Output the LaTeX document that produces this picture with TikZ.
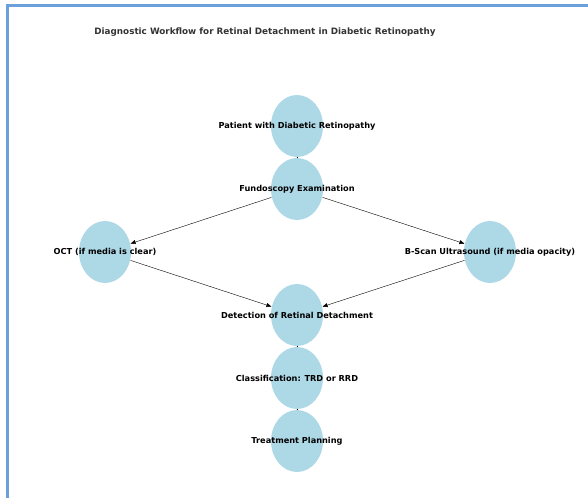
\documentclass[tikz,border=0pt]{standalone}
\usepackage{fontspec}
\setmainfont{DejaVu Sans}
\usepackage{tikz}
\usetikzlibrary{shapes,arrows.meta,positioning,backgrounds}
\definecolor{nodeblue}{HTML}{ADD8E6}
\definecolor{framecol}{HTML}{6CA0DC}
\definecolor{titlegray}{HTML}{333333}

\begin{document}
\begin{tikzpicture}[-{Triangle[length=5pt,width=4pt]},line width=1pt,node distance=63pt]
\tikzstyle{stage}=[ellipse,fill=nodeblue,draw=none,minimum width=52pt,minimum height=62pt,inner sep=0pt]
\tikzstyle{txt}=[font=\fontsize{8.2}{9}\selectfont\bfseries,text=black]
\useasboundingbox (0,0) rectangle (588pt,-498pt);
\draw[-,draw=framecol,line width=2.2pt] (7.5pt,-498pt) -- (7.5pt,-5.5pt) -- (588pt,-5.5pt);
\node[font=\fontsize{8.8}{10}\selectfont\bfseries,text=titlegray] (title) at (265pt,-32pt) {Diagnostic Workflow for Retinal Detachment in Diabetic Retinopathy};
\node[stage,label={[txt]center:Patient with Diabetic Retinopathy}] (P) at (297pt,-126pt) {};
\node[stage,label={[txt]center:Fundoscopy Examination}][below of=P] (F) {};
\node[stage,label={[txt]center:OCT (if media is clear)}] (O) at (105pt,-252pt) {};
\node[stage,label={[txt]center:B-Scan Ultrasound (if media opacity)}] (B) at (490pt,-252pt) {};
\node[stage,label={[txt]center:Detection of Retinal Detachment}][below of=F,node distance=126pt] (D) {};
\node[stage,label={[txt]center:Classification: TRD or RRD}][below of=D] (C) {};
\node[stage,label={[txt]center:Treatment Planning}][below of=C] (T) {};
\begin{scope}[on background layer]
\path (P) edge (F)
      (F) edge (O)
          edge (B)
      (O) edge (D)
      (B) edge (D)
      (D) edge (C)
      (C) edge (T);
\end{scope}
\end{tikzpicture}
\end{document}
